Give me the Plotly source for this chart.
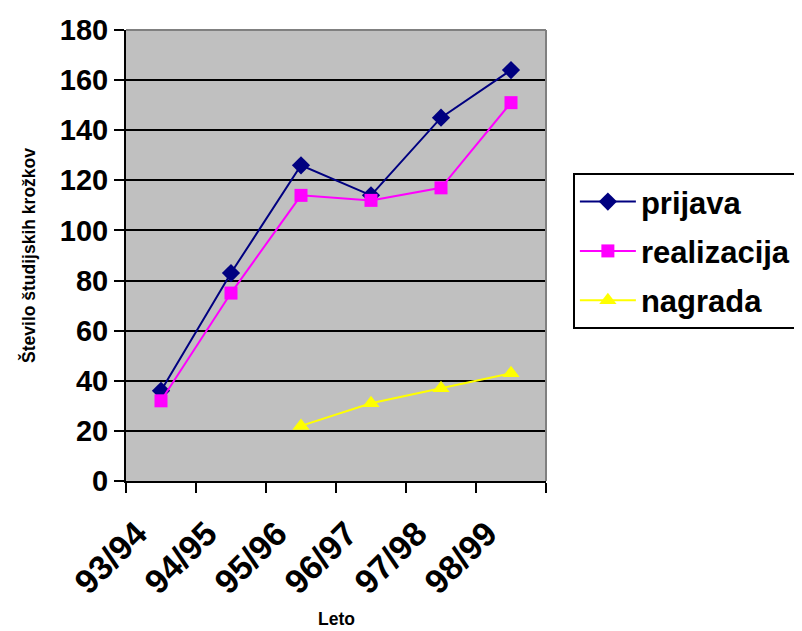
import plotly.graph_objects as go

categories = ["93/94", "94/95", "95/96", "96/97", "97/98", "98/99"]
prijava = [36, 83, 126, 114, 145, 164]
realizacija = [32, 75, 114, 112, 117, 151]
nagrada = [None, None, 22, 31, 37, 43]
y_ticks = [0, 20, 40, 60, 80, 100, 120, 140, 160, 180]

FONT = "Liberation Sans, Arial, sans-serif"

fig = go.Figure()
fig.add_trace(go.Scatter(x=categories, y=prijava, name="prijava", mode="lines+markers",
                         line=dict(color="#000080", width=2),
                         marker=dict(symbol="diamond", size=14, color="#000080"),
                         legendgroup="a"))
fig.add_trace(go.Scatter(x=categories, y=realizacija, name="realizacija", mode="lines+markers",
                         line=dict(color="#FF00FF", width=2),
                         marker=dict(symbol="square", size=13, color="#FF00FF"),
                         legendgroup="b"))
fig.add_trace(go.Scatter(x=categories, y=nagrada, name="nagrada", mode="lines+markers",
                         line=dict(color="#FFFF00", width=2),
                         marker=dict(symbol="triangle-up", size=15, color="#FFFF00"),
                         legendgroup="c"))

fig.update_layout(
    width=794, height=623,
    margin=dict(l=118, r=256, t=22, b=150, autoexpand=False),
    paper_bgcolor="white",
    plot_bgcolor="#C0C0C0",
    font=dict(family=FONT, color="black", weight="bold"),
    xaxis=dict(
        type="category",
        categoryorder="array", categoryarray=categories,
        range=[-0.5, 5.5],
        showgrid=False,
        showline=True, linecolor="black", linewidth=2,
        ticks="outside", tickson="boundaries", ticklen=10, tickwidth=2, tickcolor="black",
        tickangle=-45,
        tickfont=dict(size=34, family=FONT, weight="bold"),
        ticklabelstandoff=17, ticklabelshift=-24,
        zeroline=False,
    ),
    yaxis=dict(
        range=[0, 180],
        tickvals=y_ticks,
        showgrid=True, gridcolor="black", gridwidth=2,
        showline=True, linecolor="black", linewidth=2,
        ticks="outside", ticklen=10, tickwidth=2, tickcolor="black",
        tickfont=dict(size=29, family=FONT, weight="bold"),
        zeroline=False,
        title=dict(text="Število študijskih krožkov", font=dict(size=17.5, family=FONT, weight="bold"),
                   standoff=20),
    ),
    legend=dict(
        x=1.064, y=0.683, xanchor="left", yanchor="top",
        bgcolor="white", bordercolor="black", borderwidth=2,
        font=dict(size=31, family=FONT, weight="bold"),
        tracegroupgap=6,
        itemwidth=56,
    ),
    shapes=[
        dict(type="line", xref="paper", yref="paper", x0=0, x1=1, y0=1, y1=1,
             line=dict(color="#808080", width=2), layer="above"),
        dict(type="line", xref="paper", yref="paper", x0=1, x1=1, y0=0, y1=1,
             line=dict(color="#808080", width=2), layer="above"),
    ],
    annotations=[
        dict(text="Leto", xref="paper", yref="paper", x=0.5, y=-0.306, yanchor="middle",
             showarrow=False, font=dict(size=17.5, family=FONT, weight="bold")),
    ],
)

fig.write_html("out.html")
